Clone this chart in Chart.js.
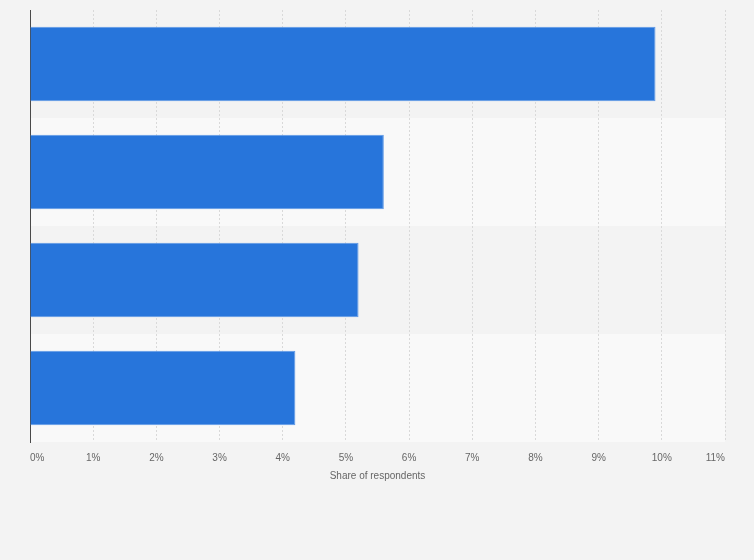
<!DOCTYPE html>
<html>
<head>
<meta charset="utf-8">
<script src="https://cdn.jsdelivr.net/npm/chart.js@4/dist/chart.umd.min.js"></script>
<style>
  html, body { margin: 0; padding: 0; background: #f3f3f3; }
  #wrap { width: 754px; height: 560px; }
</style>
</head>
<body>
<div id="wrap"><canvas id="barChart" width="754" height="560"></canvas></div>
<script>
// categories are not shown in the picture
const categories = ['Answer 1', 'Answer 2', 'Answer 3', 'Answer 4'];
const shares = [9.9, 5.6, 5.2, 4.2];
const xTicks = [0, 1, 2, 3, 4, 5, 6, 7, 8, 9, 10, 11];

// alternating row bands behind the bars
const rowBands = {
  id: 'rowBands',
  beforeDraw(chart) {
    const { ctx, chartArea, scales } = chart;
    const y = scales.y;
    const step = y.getPixelForValue(1) - y.getPixelForValue(0);
    const right = scales.x.getPixelForValue(xTicks[xTicks.length - 1]);
    ctx.save();
    categories.forEach((c, i) => {
      const mid = y.getPixelForValue(i);
      ctx.fillStyle = i % 2 === 0 ? '#f3f3f3' : '#f9f9f9';
      ctx.fillRect(chartArea.left, mid - step / 2, right - chartArea.left, step);
    });
    ctx.restore();
  }
};

new Chart(document.getElementById('barChart'), {
  type: 'bar',
  data: {
    labels: categories,
    datasets: [{
      data: shares,
      backgroundColor: '#2775db',
      borderColor: '#5e98e6',
      borderWidth: 1,
      barPercentage: 0.69,
      categoryPercentage: 1
    }]
  },
  options: {
    indexAxis: 'y',
    responsive: false,
    animation: false,
    layout: { padding: { left: 30, right: 29, top: 10, bottom: 78 } },
    plugins: {
      legend: { display: false },
      tooltip: { enabled: false }
    },
    scales: {
      x: {
        min: 0,
        max: 11,
        afterBuildTicks(axis) { axis.ticks = xTicks.map(v => ({ value: v })); },
        ticks: {
          padding: 10,
          align: 'inner',
          maxRotation: 0,
          color: '#666',
          font: { family: '"Liberation Sans", Arial, sans-serif', size: 10 },
          callback: v => v + '%'
        },
        grid: { color: '#d9d9d9', drawTicks: false, lineWidth: 1 },
        border: { display: false, dash: [2, 2] },
        title: {
          display: true,
          text: 'Share of respondents',
          color: '#666',
          font: { family: '"Liberation Sans", Arial, sans-serif', size: 10 },
          padding: { top: -4, bottom: 0 }
        }
      },
      y: {
        ticks: { display: false },
        grid: { display: false, drawTicks: false },
        border: { display: true, color: '#4a4a4a', width: 1 }
      }
    }
  },
  plugins: [rowBands]
});
</script>
</body>
</html>
